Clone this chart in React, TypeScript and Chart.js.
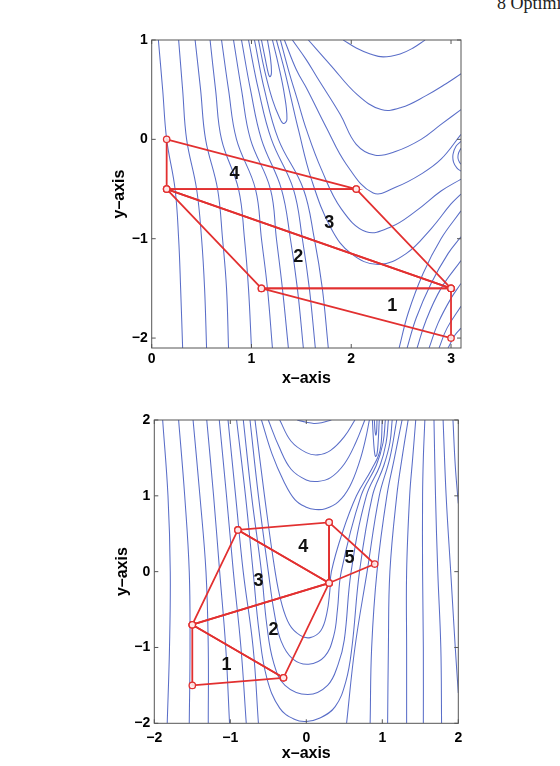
import React, { useEffect, useRef } from "react";
import { Chart, registerables } from "chart.js";

Chart.register(...registerables);

// ---------- shared styling ----------
const FONT = "'Liberation Sans', Arial, Helvetica, sans-serif";
const CONTOUR_COLOR = "rgb(90,110,200)";
const SIMPLEX_COLOR = "rgb(226,48,48)";

// ---------- upper panel: axes ----------
const topXRange = [0, 3.1];
const topYRange = [-2.1, 1];
const topXTicks = [0, 1, 2, 3];
const topYTicks = [-2, -1, 0, 1];

// upper panel: level curves, each as x0,y0,x1,y1,...
const topContours: number[][] = [
  [0.067, 1, 0.11, 0.5, 0.15, 0, 0.234, -0.5, 0.27, -1, 0.29, -1.5, 0.31, -2.1],
  [0.27, 1, 0.31, 0.5, 0.35, 0, 0.45, -0.5, 0.5, -1, 0.53, -1.5, 0.55, -2.1],
  [0.435, 1, 0.49, 0.5, 0.54, 0, 0.66, -0.5, 0.71, -1, 0.75, -1.5, 0.77, -2.1],
  [0.585, 1, 0.64, 0.5, 0.7, 0, 0.87, -0.5, 0.93, -1, 0.97, -1.5, 1.0, -2.1],
  [0.7, 1, 0.77, 0.5, 0.85, 0, 1.04, -0.5, 1.1, -1, 1.16, -1.5, 1.21, -2.1],
  [0.82, 1, 0.9, 0.5, 0.99, 0, 1.19, -0.5, 1.25, -1, 1.31, -1.5, 1.37, -2.1],
  [0.9, 1, 0.99, 0.5, 1.1, 0, 1.3, -0.5, 1.39, -1, 1.46, -1.5, 1.52, -2.1],
  [0.97, 1, 1.07, 0.5, 1.2, 0, 1.42, -0.5, 1.51, -1, 1.58, -1.5, 1.64, -2.1],
  [1.03, 1, 1.13, 0.5, 1.27, 0, 1.52, -0.5, 1.63, -1, 1.71, -1.5, 1.77, -2.1],
  [1.07, 1, 1.13, 0.7, 1.21, 0.4, 1.28, 0.22, 1.32, 0.16, 1.355, 0.2, 1.33, 0.45, 1.27, 0.75, 1.21, 1],
  [1.1, 1, 1.14, 0.8, 1.17, 0.66, 1.185, 0.63, 1.2, 0.67, 1.19, 0.82, 1.16, 1],
  [1.25, 1, 1.33, 0.7, 1.4, 0.4, 1.47, 0.1, 1.6, -0.4, 1.8, -0.9, 2.0, -1.15, 2.27, -1.26, 2.55, -1.15, 2.8, -0.9, 3.0, -0.65, 3.1, -0.55],
  [1.29, 1, 1.37, 0.7, 1.46, 0.4, 1.55, 0.1, 1.7, -0.3, 1.9, -0.7, 2.15, -0.93, 2.4, -0.88, 2.65, -0.72, 2.9, -0.52, 3.1, -0.4],
  [1.33, 1, 1.45, 0.7, 1.56, 0.5, 1.75, 0.12, 1.95, -0.25, 2.22, -0.54, 2.45, -0.48, 2.7, -0.35, 2.9, -0.2, 3.1, 0.05],
  [1.41, 1, 1.55, 0.8, 1.66, 0.62, 1.89, 0.25, 2.05, -0.05, 2.24, -0.16, 2.45, -0.12, 2.7, 0.0, 2.9, 0.15, 3.1, 0.3],
  [1.57, 1, 1.79, 0.75, 2.06, 0.45, 2.3, 0.3, 2.5, 0.32, 2.75, 0.44, 2.95, 0.56, 3.1, 0.66],
  [1.92, 1, 2.05, 0.92, 2.19, 0.86, 2.32, 0.83, 2.49, 0.86, 2.62, 0.92, 2.74, 1],
  [3.1, -0.02, 3.05, -0.07, 3.02, -0.15, 3.025, -0.23, 3.06, -0.29, 3.1, -0.32],
  [3.1, -0.09, 3.075, -0.14, 3.07, -0.19, 3.085, -0.23, 3.1, -0.25],
  [2.48, -2.1, 2.57, -1.75, 2.72, -1.35, 2.9, -1.0, 3.1, -0.72],
  [2.56, -2.1, 2.65, -1.8, 2.8, -1.45, 2.97, -1.15, 3.1, -0.98],
  [2.66, -2.1, 2.75, -1.82, 2.9, -1.5, 3.1, -1.22],
  [2.78, -2.1, 2.87, -1.85, 3.0, -1.6, 3.1, -1.45],
  [2.88, -2.1, 2.96, -1.9, 3.1, -1.68],
  [2.97, -2.1, 3.04, -1.97, 3.1, -1.9],
];

// upper panel: simplex vertices, one triangle per step
const topSimplexX = [
  [1.1, 3.0, 3.0],
  [0.15, 1.1, 3.0],
  [0.15, 3.0, 2.05],
  [0.15, 2.05, 0.15],
];
const topSimplexY = [
  [-1.5, -1.5, -2.0],
  [-0.5, -1.5, -1.5],
  [-0.5, -1.5, -0.5],
  [-0.5, -0.5, 0.0],
];
const topStepText = ["1", "2", "3", "4"];
const topStepX = [2.41, 1.47, 1.78, 0.83];
const topStepY = [-1.68, -1.18, -0.84, -0.35];

// ---------- lower panel: axes ----------
const botXRange = [-2, 2];
const botYRange = [-2, 2];
const botXTicks = [-2, -1, 0, 1, 2];
const botYTicks = [-2, -1, 0, 1, 2];

// lower panel: level curves
const botContours: number[][] = [
  [-1.83, -2, -1.8, -1, -1.79, 0, -1.82, 1, -1.89, 2],
  [-1.54, -2, -1.53, -1, -1.54, 0, -1.6, 1, -1.68, 2],
  [-1.29, -2, -1.29, -1, -1.32, 0, -1.4, 1, -1.49, 2],
  [-1.01, -2, -1.06, -1, -1.14, 0, -1.22, 1, -1.31, 2],
  [-0.79, -2, -0.86, -1, -0.96, 0, -1.05, 1, -1.145, 2],
  [-0.63, -2, -0.7, -1, -0.83, 0, -0.93, 1, -1.03, 2],
  [-0.917, 2, -0.8, 1, -0.7, 0, -0.62, -0.8, -0.52, -1.4, -0.35, -1.8, -0.15, -1.95, 0.0, -1.975, 0.18, -1.93, 0.38, -1.78, 0.52, -1.45, 0.6, -1.0, 0.7, 0, 0.87, 1.0, 1.02, 1.4, 1.1, 1.7, 1.13, 2],
  [-0.829, 2, -0.72, 1, -0.59, 0, -0.52, -0.7, -0.43, -1.2, -0.28, -1.5, 0.02, -1.62, 0.28, -1.5, 0.42, -1.22, 0.5, -0.9, 0.59, 0, 0.79, 1.0, 0.97, 1.4, 1.05, 1.7, 1.08, 2],
  [-0.741, 2, -0.63, 1, -0.5, 0, -0.42, -0.55, -0.33, -0.92, -0.18, -1.15, 0.03, -1.22, 0.24, -1.12, 0.36, -0.85, 0.41, -0.5, 0.46, 0, 0.72, 1.0, 0.92, 1.4, 1.01, 1.7, 1.04, 2],
  [-0.675, 2, -0.55, 1, -0.41, 0, -0.33, -0.4, -0.22, -0.7, -0.08, -0.84, 0.05, -0.87, 0.19, -0.78, 0.27, -0.55, 0.31, -0.25, 0.33, 0, 0.47, 0.5, 0.66, 1.0, 0.86, 1.35, 0.97, 1.6, 1.0, 2],
  [0.53, -2, 0.64, -1, 0.8, 0, 0.96, 1, 1.1, 1.5, 1.19, 2],
  [0.84, -2, 0.86, -1, 0.93, 0, 1.06, 1, 1.16, 1.5, 1.26, 2],
  [1.07, -2, 1.08, -1, 1.1, 0, 1.19, 1, 1.26, 1.5, 1.34, 2],
  [1.32, -2, 1.32, -1, 1.32, 0, 1.36, 1, 1.4, 1.5, 1.44, 2],
  [1.54, -2, 1.54, -1, 1.53, 0, 1.53, 1, 1.54, 1.5, 1.56, 2],
  [1.78, -2, 1.77, -1, 1.73, 0, 1.7, 1, 1.68, 2],
  [2.0, -1.6, 1.96, -1, 1.9, 0, 1.84, 1, 1.8, 2],
  [2.0, 0.9, 1.96, 1.4, 1.93, 2],
  [-0.59, 2, -0.45, 1.55, -0.3, 1.2, -0.15, 0.95, 0.0, 0.85, 0.12, 0.82, 0.25, 0.83, 0.42, 0.92, 0.57, 1.12, 0.7, 1.45, 0.78, 1.75, 0.83, 2],
  [-0.5, 2, -0.36, 1.65, -0.2, 1.35, 0.0, 1.21, 0.15, 1.19, 0.32, 1.24, 0.5, 1.42, 0.65, 1.7, 0.77, 2],
  [-0.35, 2, -0.2, 1.72, 0.0, 1.57, 0.15, 1.54, 0.32, 1.6, 0.5, 1.78, 0.64, 2],
  [-0.12, 2, 0.0, 1.97, 0.1, 1.955, 0.2, 1.965, 0.33, 2],
  [0.87, 2, 0.88, 1.8, 0.895, 1.6, 0.91, 1.52, 0.93, 1.55, 0.945, 1.7, 0.96, 2],
  [0.895, 2, 0.905, 1.85, 0.915, 1.8, 0.925, 1.85, 0.93, 2],
];

// lower panel: simplex vertices
const botSimplexX = [
  [-1.5, -0.3, -1.5],
  [-1.5, -0.3, 0.3],
  [-1.5, 0.3, -0.9],
  [-0.9, 0.3, 0.3],
  [0.3, 0.3, 0.9],
];
const botSimplexY = [
  [-1.5, -1.4, -0.7],
  [-0.7, -1.4, -0.15],
  [-0.7, -0.15, 0.55],
  [0.55, -0.15, 0.65],
  [0.65, -0.15, 0.1],
];
const botStepText = ["1", "2", "3", "4", "5"];
const botStepX = [-1.05, -0.43, -0.63, -0.04, 0.57];
const botStepY = [-1.23, -0.77, -0.13, 0.33, 0.18];

// ---------- helpers ----------
type Pt = { x: number; y: number };

function pairs(flat: number[]): Pt[] {
  const out: Pt[] = [];
  for (let i = 0; i + 1 < flat.length; i += 2) out.push({ x: flat[i], y: flat[i + 1] });
  return out;
}

function fmtTick(v: number): string {
  const r = Math.round(v * 10) / 10;
  return r < 0 ? "\u2212" + Math.abs(r) : String(r);
}

// box around the plot, inward tick marks on all four sides, step numbers
const framePlugin = {
  id: "frame",
  afterDatasetsDraw(chart: any) {
    const { ctx, chartArea: a, scales } = chart;
    const xs = scales.x;
    const ys = scales.y;
    const tl = 4;
    ctx.save();
    ctx.strokeStyle = "#555";
    ctx.lineWidth = 1;
    ctx.beginPath();
    for (const t of xs.ticks) {
      const px = xs.getPixelForValue(t.value);
      ctx.moveTo(px, a.bottom);
      ctx.lineTo(px, a.bottom - tl);
      ctx.moveTo(px, a.top);
      ctx.lineTo(px, a.top + tl);
    }
    for (const t of ys.ticks) {
      const py = ys.getPixelForValue(t.value);
      ctx.moveTo(a.left, py);
      ctx.lineTo(a.left + tl, py);
      ctx.moveTo(a.right, py);
      ctx.lineTo(a.right - tl, py);
    }
    ctx.stroke();
    ctx.strokeRect(a.left, a.top, a.right - a.left, a.bottom - a.top);
    ctx.restore();
  },
  afterDraw(chart: any, _args: any, opts: any) {
    const { ctx, scales } = chart;
    const texts: string[] = opts.texts || [];
    ctx.save();
    ctx.fillStyle = "#111";
    ctx.font = `bold 18px ${FONT}`;
    ctx.textAlign = "center";
    ctx.textBaseline = "middle";
    texts.forEach((t, i) => {
      ctx.fillText(t, scales.x.getPixelForValue(opts.xs[i]), scales.y.getPixelForValue(opts.ys[i]));
    });
    ctx.restore();
  },
};

type PanelSpec = {
  xRange: number[];
  yRange: number[];
  xTicks: number[];
  yTicks: number[];
  contours: number[][];
  simplexX: number[][];
  simplexY: number[][];
  stepText: string[];
  stepX: number[];
  stepY: number[];
  padding: { left: number; right: number; top: number; bottom: number };
  xAxisHeight: number;
  yAxisWidth: number;
  xTickPad: number;
  xTitlePad: number;
  yTitlePad: number;
};

function buildConfig(p: PanelSpec): any {
  const contourSets = p.contours.map((c) => ({
    data: pairs(c),
    showLine: true,
    borderColor: CONTOUR_COLOR,
    borderWidth: 1.05,
    pointRadius: 0,
    tension: 0.4,
    fill: false,
    clip: 0,
    order: 3,
  }));
  const simplexSets = p.simplexX.map((xs, i) => {
    const ys = p.simplexY[i];
    const pts = xs.map((x, k) => ({ x, y: ys[k] }));
    pts.push({ x: xs[0], y: ys[0] });
    return {
      data: pts,
      showLine: true,
      borderColor: SIMPLEX_COLOR,
      borderWidth: 1.8,
      pointRadius: 0,
      tension: 0,
      fill: false,
      order: 2,
    };
  });
  const vertexPts: Pt[] = [];
  p.simplexX.forEach((xs, i) => xs.forEach((x, k) => vertexPts.push({ x, y: p.simplexY[i][k] })));
  const vertexSet = {
    data: vertexPts,
    showLine: false,
    pointRadius: 3.2,
    pointBorderWidth: 1.3,
    pointBorderColor: SIMPLEX_COLOR,
    pointBackgroundColor: "rgba(255,235,235,0.9)",
    order: 1,
  };

  const tickFont = { family: FONT, size: 14, weight: "bold" as const };
  const titleFont = { family: FONT, size: 16, weight: "bold" as const };

  return {
    type: "scatter",
    data: { datasets: [...contourSets, ...simplexSets, vertexSet] },
    options: {
      responsive: false,
      animation: false,
      devicePixelRatio: 1,
      events: [],
      layout: { padding: p.padding },
      plugins: {
        legend: { display: false },
        tooltip: { enabled: false },
        frame: { texts: p.stepText, xs: p.stepX, ys: p.stepY },
      },
      scales: {
        x: {
          type: "linear",
          position: "bottom",
          min: p.xRange[0],
          max: p.xRange[1],
          afterBuildTicks: (s: any) => {
            s.ticks = p.xTicks.map((v) => ({ value: v }));
          },
          afterFit: (s: any) => {
            s.height = p.xAxisHeight;
          },
          grid: { display: false, drawTicks: false },
          border: { display: false },
          ticks: {
            font: tickFont,
            color: "#000",
            padding: p.xTickPad,
            autoSkip: false,
            maxRotation: 0,
            callback: (v: number) => fmtTick(v),
          },
          title: {
            display: true,
            text: "x\u2013axis",
            font: titleFont,
            color: "#000",
            padding: { top: 0, bottom: p.xTitlePad },
          },
        },
        y: {
          type: "linear",
          position: "left",
          min: p.yRange[0],
          max: p.yRange[1],
          afterBuildTicks: (s: any) => {
            s.ticks = p.yTicks.map((v) => ({ value: v }));
          },
          afterFit: (s: any) => {
            s.width = p.yAxisWidth;
          },
          grid: { display: false, drawTicks: false },
          border: { display: false },
          ticks: {
            font: tickFont,
            color: "#000",
            padding: 4,
            autoSkip: false,
            callback: (v: number) => fmtTick(v),
          },
          title: {
            display: true,
            text: "y\u2013axis",
            font: titleFont,
            color: "#000",
            padding: { top: p.yTitlePad, bottom: 0 },
          },
        },
      },
    },
    plugins: [framePlugin],
  };
}

const topPanel: PanelSpec = {
  xRange: topXRange,
  yRange: topYRange,
  xTicks: topXTicks,
  yTicks: topYTicks,
  contours: topContours,
  simplexX: topSimplexX,
  simplexY: topSimplexY,
  stepText: topStepText,
  stepX: topStepX,
  stepY: topStepY,
  padding: { left: 101.7, right: 99, top: 40, bottom: 0 },
  xAxisHeight: 42,
  yAxisWidth: 50,
  xTickPad: 2.8,
  xTitlePad: 1.5,
  yTitlePad: 8.7,
};

const botPanel: PanelSpec = {
  xRange: botXRange,
  yRange: botYRange,
  xTicks: botXTicks,
  yTicks: botYTicks,
  contours: botContours,
  simplexX: botSimplexX,
  simplexY: botSimplexY,
  stepText: botStepText,
  stepX: botStepX,
  stepY: botStepY,
  padding: { left: 104.3, right: 101.7, top: 30, bottom: 0 },
  xAxisHeight: 42.7,
  yAxisWidth: 50,
  xTickPad: 6.6,
  xTitlePad: 3,
  yTitlePad: 9.1,
};

function PanelChart(props: { spec: PanelSpec; top: number; height: number }) {
  const ref = useRef<HTMLCanvasElement | null>(null);
  useEffect(() => {
    if (!ref.current) return;
    const chart = new Chart(ref.current, buildConfig(props.spec));
    return () => chart.destroy();
  }, [props.spec]);
  return (
    <canvas
      ref={ref}
      width={560}
      height={props.height}
      style={{ position: "absolute", left: 0, top: props.top, width: 560, height: props.height, display: "block" }}
    />
  );
}

export default function App() {
  return (
    <div
      style={{
        position: "fixed",
        left: 0,
        top: 0,
        width: 560,
        height: 766,
        overflow: "hidden",
        background: "#fff",
      }}
    >
      <div
        style={{
          position: "absolute",
          left: 497,
          top: -6,
          font: "18px 'Liberation Serif', 'Times New Roman', serif",
          lineHeight: "18px",
          whiteSpace: "nowrap",
          color: "#222",
        }}
      >
        8 Optimization
      </div>
      <PanelChart spec={topPanel} top={0} height={390} />
      <PanelChart spec={botPanel} top={390} height={376} />
    </div>
  );
}
